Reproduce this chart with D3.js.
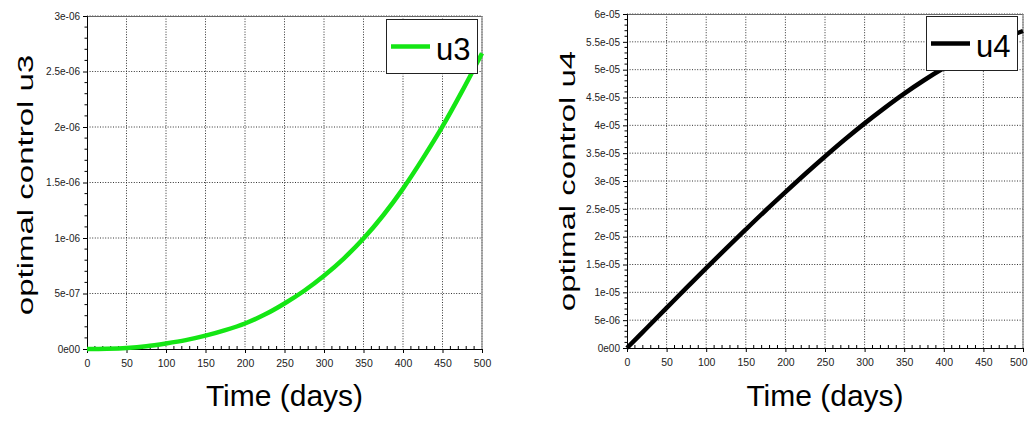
<!DOCTYPE html>
<html>
<head>
<meta charset="utf-8">
<script src="https://cdn.jsdelivr.net/npm/d3@7"></script>
<style>
  html, body { margin: 0; padding: 0; background: #fff; }
  svg { display: block; font-family: "Liberation Sans", Arial, sans-serif; }
</style>
</head>
<body>
<svg id="chart" width="1028" height="422"></svg>
<script>
// Time axis (days) and tick values shared by both panels
const days = [0, 25, 50, 75, 100, 125, 150, 175, 200, 225, 250, 275, 300, 325, 350, 375, 400, 425, 450, 475, 500];
const dayTicks = [0, 50, 100, 150, 200, 250, 300, 350, 400, 450, 500];

// Optimal control u3
const u3 = [0, 0.003e-6, 0.01e-6, 0.025e-6, 0.05e-6, 0.08e-6, 0.12e-6, 0.17e-6, 0.23e-6, 0.31e-6,
            0.41e-6, 0.525e-6, 0.66e-6, 0.815e-6, 0.995e-6, 1.205e-6, 1.445e-6, 1.715e-6, 2.005e-6, 2.325e-6, 2.665e-6];
const u3Ticks = [0, 0.5e-6, 1e-6, 1.5e-6, 2e-6, 2.5e-6, 3e-6];
const u3TickLabels = ["0e00", "5e-07", "1e-06", "1.5e-06", "2e-06", "2.5e-06", "3e-06"];

// Optimal control u4
const u4 = [0, 0.36e-5, 0.72e-5, 1.08e-5, 1.435e-5, 1.785e-5, 2.13e-5, 2.47e-5, 2.80e-5, 3.125e-5,
            3.44e-5, 3.745e-5, 4.035e-5, 4.31e-5, 4.57e-5, 4.81e-5, 5.03e-5, 5.225e-5, 5.40e-5, 5.555e-5, 5.695e-5];
const u4Ticks = [0, 0.5e-5, 1e-5, 1.5e-5, 2e-5, 2.5e-5, 3e-5, 3.5e-5, 4e-5, 4.5e-5, 5e-5, 5.5e-5, 6e-5];
const u4TickLabels = ["0e00", "5e-06", "1e-05", "1.5e-05", "2e-05", "2.5e-05", "3e-05",
                      "3.5e-05", "4e-05", "4.5e-05", "5e-05", "5.5e-05", "6e-05"];

const svg = d3.select("#chart");
const pageWidth = +svg.attr("width");

function drawPanel(p) {
  const x = d3.scaleLinear().domain([0, 500]).range([p.left, p.right]);
  const y = d3.scaleLinear().domain([0, p.yMax]).range([p.bottom, p.top]);
  const g = svg.append("g");

  // dotted grid at every major tick
  g.append("g").selectAll("line").data(dayTicks.slice(1)).join("line")
    .attr("x1", d => x(d)).attr("x2", d => x(d))
    .attr("y1", p.top).attr("y2", p.bottom)
    .attr("stroke", "#333").attr("stroke-width", 1).attr("stroke-dasharray", "1,1.6");
  g.append("g").selectAll("line").data(p.yTicks.slice(1)).join("line")
    .attr("x1", p.left).attr("x2", p.right)
    .attr("y1", d => y(d)).attr("y2", d => y(d))
    .attr("stroke", "#333").attr("stroke-width", 1).attr("stroke-dasharray", "1,1.6");

  // frame: grey top/right, black axes
  g.append("line").attr("x1", p.left).attr("x2", p.right).attr("y1", p.top + 0.5).attr("y2", p.top + 0.5)
    .attr("stroke", "#666").attr("stroke-width", 1.2);
  g.append("line").attr("x1", p.right).attr("x2", p.right).attr("y1", p.top).attr("y2", p.bottom)
    .attr("stroke", "#888").attr("stroke-width", 1.2);

  // x axis: major ticks down, minor ticks up
  const xAxis = g.append("g").attr("transform", `translate(0,${p.bottom})`)
    .call(d3.axisBottom(x).tickValues(dayTicks).tickSize(4).tickPadding(7).tickFormat(d3.format("d")));
  xAxis.select(".domain").attr("stroke", "#000");
  xAxis.selectAll("text").attr("font-size", "10.5px").attr("fill", "#222")
    .attr("font-family", "Liberation Sans, Arial, sans-serif");
  // keep a label that would run past the page edge inside it
  xAxis.selectAll(".tick").each(function (d) {
    const t = d3.select(this).select("text");
    const box = this.getBBox ? t.node().getBBox() : null;
    if (box && x(d) + box.width / 2 > pageWidth - 1) t.attr("text-anchor", "end").attr("x", pageWidth - 1 - x(d));
  });
  const xMinor = d3.range(0, 501, 10).filter(d => d % 50 !== 0);
  g.append("g").selectAll("line").data(xMinor).join("line")
    .attr("x1", d => x(d)).attr("x2", d => x(d))
    .attr("y1", p.bottom).attr("y2", p.bottom - 3)
    .attr("stroke", "#000");

  // y axis: major and minor ticks outward
  const yAxis = g.append("g").attr("transform", `translate(${p.left},0)`)
    .call(d3.axisLeft(y).tickValues(p.yTicks).tickSize(4).tickPadding(3)
      .tickFormat((d, i) => p.yTickLabels[i]));
  yAxis.select(".domain").attr("stroke", "#000");
  yAxis.selectAll("text").attr("font-size", "10px").attr("fill", "#222")
    .attr("font-family", "Liberation Sans, Arial, sans-serif");
  const step = p.yTicks[1] - p.yTicks[0];
  const yMinor = [];
  for (let i = 0; i < p.yTicks.length - 1; i++)
    for (let k = 1; k < 5; k++) yMinor.push(p.yTicks[i] + step * k / 5);
  g.append("g").selectAll("line").data(yMinor).join("line")
    .attr("x1", p.left).attr("x2", p.left - 2.5)
    .attr("y1", d => y(d)).attr("y2", d => y(d))
    .attr("stroke", "#000");

  // curve
  const line = d3.line().x(d => x(d[0])).y(d => y(d[1])).curve(d3.curveMonotoneX);
  g.append("path").datum(days.map((d, i) => [d, p.values[i]]))
    .attr("d", line).attr("fill", "none")
    .attr("stroke", p.color).attr("stroke-width", 4.5)
    .attr("stroke-linejoin", "round");

  // axis titles
  g.append("text")
    .attr("transform", `translate(${p.yTitleX},${p.yTitleY}) rotate(-90) scale(1.5,1)`)
    .attr("text-anchor", "middle").attr("font-size", "22px").attr("fill", "#000")
    .text(p.yTitle);
  g.append("text")
    .attr("x", (p.left + p.right) / 2).attr("y", 406)
    .attr("text-anchor", "middle").attr("font-size", "30px").attr("fill", "#000")
    .text("Time (days)");

  // legend
  const lg = g.append("g").attr("transform", `translate(${p.legendX},${p.legendY})`);
  lg.append("rect").attr("x", 0.5).attr("y", 0.5).attr("width", 91).attr("height", 54)
    .attr("fill", "#fff").attr("stroke", "#222").attr("stroke-width", 1);
  lg.append("line").attr("x1", 5).attr("x2", 44).attr("y1", 27.5).attr("y2", 27.5)
    .attr("stroke", p.color).attr("stroke-width", 4.5);
  lg.append("text").attr("x", 50).attr("y", 40.5)
    .attr("font-size", "31px").attr("fill", "#000").text(p.name);
}

drawPanel({
  left: 87, right: 482, top: 16, bottom: 349,
  yMax: 3e-6, yTicks: u3Ticks, yTickLabels: u3TickLabels,
  values: u3, color: "#14e614", name: "u3",
  yTitle: "optimal control u3", yTitleX: 32.5, yTitleY: 185,
  legendX: 386, legendY: 19
});

drawPanel({
  left: 627, right: 1023, top: 14, bottom: 348,
  yMax: 6e-5, yTicks: u4Ticks, yTickLabels: u4TickLabels,
  values: u4, color: "#000", name: "u4",
  yTitle: "optimal control u4", yTitleX: 575, yTitleY: 181,
  legendX: 926, legendY: 16
});
</script>
</body>
</html>
